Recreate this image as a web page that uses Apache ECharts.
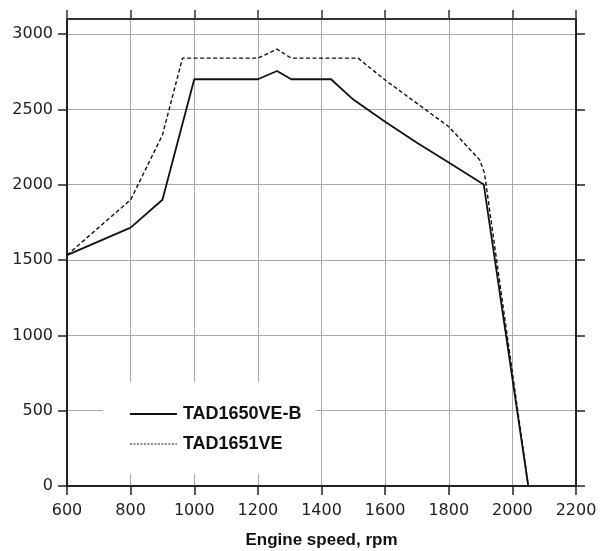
<!DOCTYPE html>
<html>
<head>
<meta charset="utf-8">
<script src="https://cdn.jsdelivr.net/npm/echarts@6/dist/echarts.min.js"></script>
<style>
html,body{margin:0;padding:0;background:#fff;}
#chart{width:611px;height:551px;}
</style>
</head>
<body>
<div id="chart"></div>
<script>
// Data
var seriesNames = ['TAD1650VE-B', 'TAD1651VE'];
var rpmA = [600, 800, 900, 1000, 1200, 1260, 1305, 1430, 1500, 1600, 1700, 1800, 1910, 2050];
var torqueA = [1533, 1715, 1900, 2700, 2700, 2755, 2700, 2700, 2565, 2418, 2278, 2148, 2002, 0];
var rpmB = [600, 800, 900, 963, 1200, 1260, 1305, 1515, 1600, 1700, 1800, 1897, 1912, 2050];
var torqueB = [1533, 1900, 2330, 2840, 2840, 2900, 2840, 2840, 2695, 2540, 2385, 2165, 2080, 0];
var yTicks = [0, 500, 1000, 1500, 2000, 2500, 3000];
var xTitle = 'Engine speed, rpm';

function pairs(xs, ys) { return xs.map(function (x, i) { return [x, ys[i]]; }); }
function plain(v) { return String(v); }

var axisColor = '#222';
var gridColor = '#a8a8a8';
var labelFont = { color: '#1e1e1e', fontSize: 16, fontFamily: 'DejaVu Sans', formatter: plain };

var chart = echarts.init(document.getElementById('chart'));
chart.setOption({
  animation: false,
  backgroundColor: '#fff',
  grid: { left: 67, right: 35, top: 19, bottom: 65, containLabel: false, outerBoundsMode: 'none' },
  xAxis: [{
    type: 'value', position: 'bottom', min: 600, max: 2200, interval: 200,
    name: xTitle, nameLocation: 'middle', nameGap: 46,
    nameTextStyle: { color: '#111', fontSize: 17, fontWeight: 'bold', fontFamily: 'Liberation Sans' },
    axisLine: { onZero: false, lineStyle: { color: axisColor, width: 2 } },
    axisTick: { show: true, inside: false, length: 9, lineStyle: { color: axisColor, width: 1.5 } },
    axisLabel: Object.assign({ margin: 17 }, labelFont),
    splitLine: { show: true, lineStyle: { color: gridColor, width: 1 } }
  }, {
    type: 'value', position: 'top', min: 600, max: 2200, interval: 200,
    axisLine: { show: true, onZero: false, lineStyle: { color: '#333', width: 2 } },
    axisTick: { show: true, inside: false, length: 9, lineStyle: { color: '#333', width: 1.5 } },
    axisLabel: { show: false },
    splitLine: { show: false }
  }],
  yAxis: [{
    type: 'value', position: 'left', min: 0, max: 3100, interval: 500,
    axisLine: { show: true, onZero: false, lineStyle: { color: axisColor, width: 2 } },
    axisTick: { show: true, inside: false, length: 9, customValues: yTicks, lineStyle: { color: axisColor, width: 1.5 } },
    axisLabel: Object.assign({ margin: 14, customValues: yTicks }, labelFont),
    splitLine: { show: true, lineStyle: { color: gridColor, width: 1 } }
  }, {
    type: 'value', position: 'right', min: 0, max: 3100, interval: 500,
    axisLine: { show: true, onZero: false, lineStyle: { color: axisColor, width: 2 } },
    axisTick: { show: true, inside: false, length: 9, customValues: yTicks, lineStyle: { color: axisColor, width: 1.5 } },
    axisLabel: { show: false },
    splitLine: { show: false }
  }],
  legend: {
    orient: 'vertical', left: 103, top: 382,
    backgroundColor: '#fff',
    padding: [23, 14, 21, 26],
    itemWidth: 47, itemHeight: 18, itemGap: 12,
    itemStyle: { opacity: 0 },
    textStyle: { color: '#111', fontSize: 18, fontWeight: 'bold', fontFamily: 'Liberation Sans', padding: [0, 0, 0, 1] },
    data: [
      { name: seriesNames[0], itemStyle: { opacity: 0 }, lineStyle: { color: '#111', width: 1.8, type: 'solid' } },
      { name: seriesNames[1], itemStyle: { opacity: 0 }, lineStyle: { color: '#111', width: 1.1, type: [2, 1.5] } }
    ]
  },
  series: [{
    name: seriesNames[0], type: 'line', symbol: 'none', z: 3,
    data: pairs(rpmA, torqueA),
    lineStyle: { color: '#111', width: 1.8, type: 'solid' },
    itemStyle: { color: '#111' }
  }, {
    name: seriesNames[1], type: 'line', symbol: 'none', z: 3,
    data: pairs(rpmB, torqueB),
    lineStyle: { color: '#111', width: 1.4, type: [4, 2.5] },
    itemStyle: { color: '#111' }
  }]
});
</script>
</body>
</html>
